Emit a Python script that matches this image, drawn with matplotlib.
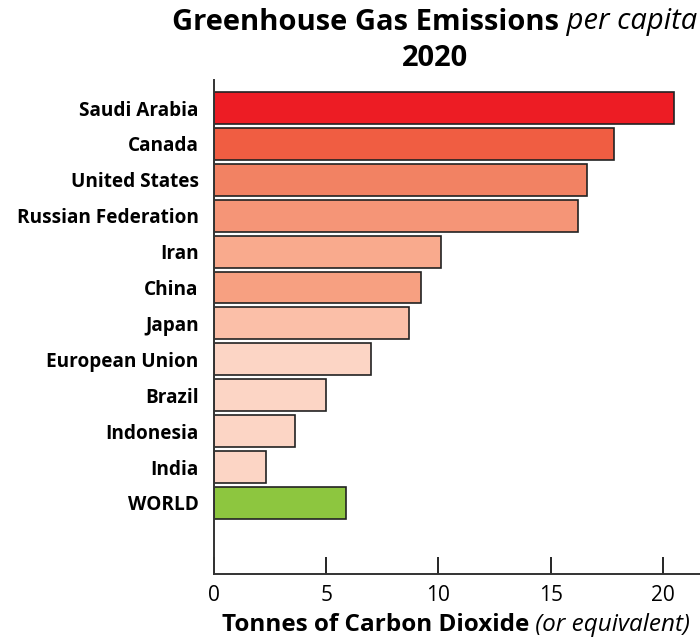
import matplotlib.pyplot as plt
import numpy as np

plt.rcParams['font.family'] = ['Open Sans', 'DejaVu Sans']

countries = ["Saudi Arabia", "Canada", "United States", "Russian Federation", "Iran",
             "China", "Japan", "European Union", "Brazil", "Indonesia", "India", "WORLD"]
emissions = [20.5, 17.8, 16.6, 16.2, 10.1, 9.2, 8.7, 7.0, 5.0, 3.6, 2.3, 5.9]
colors = ["#ED1C24", "#F05D42", "#F28263", "#F59577", "#F9AA8D", "#F7A081",
          "#FBBFA8", "#FCD5C5", "#FCD5C5", "#FCD5C5", "#FCD5C5", "#8DC63F"]

fig = plt.figure(figsize=(7, 6.41), dpi=100)
ax = fig.add_axes([0.3057, 0.1045, 0.6943, 0.7707])

y = np.arange(len(countries))
ax.barh(y, emissions, height=0.89, color=colors, edgecolor="#222222", linewidth=1.2)

ax.set_ylim(12.98, -0.78)
ax.set_xlim(0, 21.65)
ax.set_xticks([0, 5, 10, 15, 20])
ax.set_yticks(y)
ax.set_yticklabels(countries, fontsize=13.7, fontweight="bold")
ax.tick_params(axis="y", length=0, pad=11)
ax.tick_params(axis="x", direction="in", length=12, width=1.2, labelsize=15, pad=8)

for side in ["top", "right"]:
    ax.spines[side].set_visible(False)
for side in ["left", "bottom"]:
    ax.spines[side].set_linewidth(1.4)
    ax.spines[side].set_color("#333333")

# title and x label mix bold and italic text, so place them piece by piece
fig.canvas.draw()
renderer = fig.canvas.get_renderer()


def two_part(x_center, y_pos, bold_txt, ital_txt, size):
    t1 = fig.text(0, y_pos, bold_txt, fontsize=size, fontweight="bold", va="center")
    t2 = fig.text(0, y_pos, " " + ital_txt, fontsize=size, style="italic", va="center")
    w1 = t1.get_window_extent(renderer).width / fig.bbox.width
    w2 = t2.get_window_extent(renderer).width / fig.bbox.width
    x0 = x_center - (w1 + w2) / 2
    t1.set_x(x0)
    t2.set_x(x0 + w1)


two_part(435 / 700, 1 - 22 / 641, "Greenhouse Gas Emissions", "per capita", 21)
fig.text(435 / 700, 1 - 58 / 641, "2020", fontsize=21, fontweight="bold", ha="center", va="center")
two_part(456 / 700, 1 - 625 / 641, "Tonnes of Carbon Dioxide", "(or equivalent)", 17.5)

fig.savefig("out.png", dpi=100)
